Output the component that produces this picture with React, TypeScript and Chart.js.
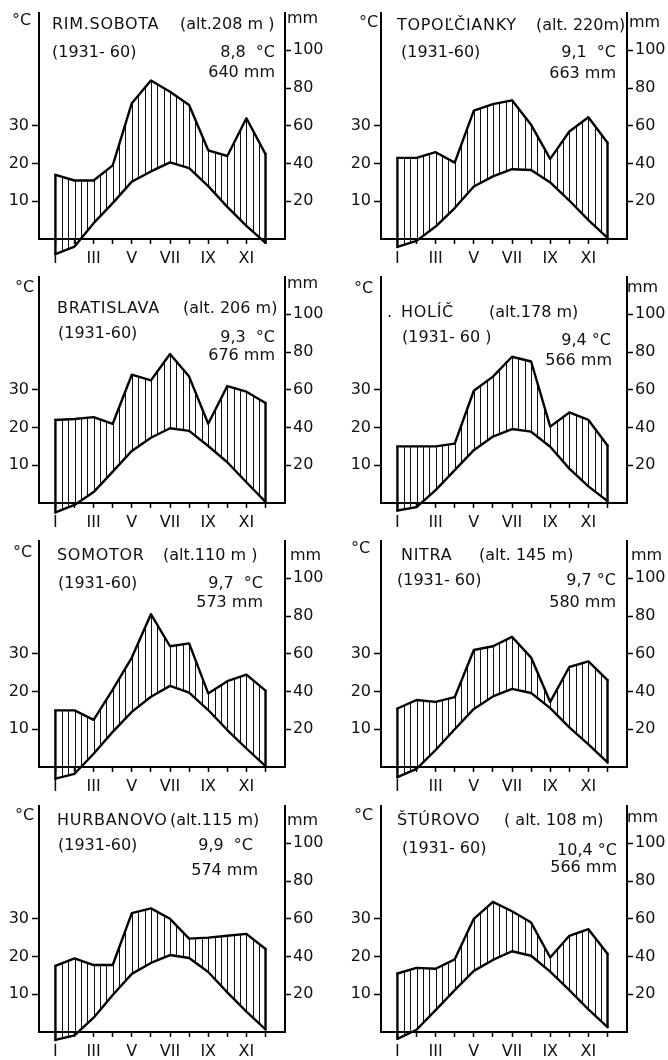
import React, { useEffect, useRef } from 'react';
import { Chart, registerables } from 'chart.js';

Chart.register(...registerables);

// ---------- data ----------
const monthNumbers = [1, 2, 3, 4, 5, 6, 7, 8, 9, 10, 11, 12];
const monthTickLabels = ['I', '', 'III', '', 'V', '', 'VII', '', 'IX', '', 'XI', ''];
const tempTicks = [10, 20, 30];
const precipTicks = [20, 40, 60, 80, 100];

const rimSobotaTemp = [-4.0, -2.0, 4.2, 9.5, 15.2, 17.9, 20.3, 18.8, 14.0, 8.5, 3.5, -1.0];
const rimSobotaPrecip = [34, 31, 31, 39, 72, 84, 78, 71, 47, 44, 64, 45];

const topolcTemp = [-2.1, -0.5, 3.3, 8.2, 13.9, 16.6, 18.5, 18.3, 15.0, 10.2, 5.0, 0.3];
const topolcPrecip = [43, 43, 46, 40.5, 68, 71.5, 73.5, 60.5, 42.5, 57, 64.5, 51];

const bratislavaTemp = [-2.5, -0.5, 2.9, 8.3, 13.8, 17.3, 19.8, 19.1, 15.1, 10.8, 5.5, 0.3];
const bratislavaPrecip = [44, 44.5, 45.5, 42, 68, 65, 79, 67, 42, 62, 59, 53];

const holicTemp = [-2.0, -1.1, 3.4, 8.7, 14.0, 17.6, 19.6, 18.9, 14.9, 9.1, 4.4, 0.5];
const holicPrecip = [30, 30, 30, 31.5, 59.5, 67, 77.5, 75, 40.5, 48, 44, 30.5];

const somotorTemp = [-3.1, -1.8, 3.5, 9.3, 14.6, 18.6, 21.5, 19.7, 15.1, 9.8, 4.9, 0.2];
const somotorPrecip = [30, 30, 25, 41, 58, 81, 64, 65.5, 39, 45.5, 49, 40.5];

const nitraTemp = [-2.7, -0.5, 4.5, 10.0, 15.4, 18.7, 20.7, 19.6, 15.6, 10.5, 6.0, 1.2];
const nitraPrecip = [31, 35.5, 34.5, 37, 62, 64, 69, 58, 34.5, 53, 56, 46];

const hurbanovoTemp = [-2.1, -0.9, 3.8, 9.8, 15.4, 18.3, 20.4, 19.6, 15.9, 10.5, 5.4, 0.7];
const hurbanovoPrecip = [35, 39, 35.5, 35.5, 63, 65.5, 60, 49.5, 50, 51, 52, 44];

const sturovoTemp = [-1.8, 0.6, 5.8, 11.1, 16.2, 19.1, 21.4, 20.2, 16.0, 11.1, 6.0, 1.3];
const sturovoPrecip = [31, 34, 33.5, 38.5, 60, 69, 64, 58, 39.5, 51, 54.5, 41.5];

const stationNames = ['RIM.SOBOTA', 'TOPOĽČIANKY', 'BRATISLAVA', 'HOLÍČ', 'SOMOTOR', 'NITRA', 'HURBANOVO', 'ŠTÚROVO'];
const stationAlts = ['(alt.208 m )', '(alt. 220m)', '(alt. 206 m)', '(alt.178 m)', '(alt.110 m )', '(alt. 145 m)', '(alt.115 m)', '( alt. 108 m)'];
const stationPeriods = ['(1931- 60)', '(1931-60)', '(1931-60)', '(1931- 60 )', '(1931-60)', '(1931- 60)', '(1931-60)', '(1931- 60)'];
const stationMeanTemps = ['8,8  °C', '9,1  °C', '9,3  °C', '9,4 °C', '9,7  °C', '9,7 °C', '9,9  °C', '10,4 °C'];
const stationTotals = ['640 mm', '663 mm', '676 mm', '566 mm', '573 mm', '580 mm', '574 mm', '566 mm'];
const stationTemps = [rimSobotaTemp, topolcTemp, bratislavaTemp, holicTemp, somotorTemp, nitraTemp, hurbanovoTemp, sturovoTemp];
const stationPrecips = [rimSobotaPrecip, topolcPrecip, bratislavaPrecip, holicPrecip, somotorPrecip, nitraPrecip, hurbanovoPrecip, sturovoPrecip];

// ---------- layout ----------
const PANEL_W = 320;
const PANEL_H = 264;
const panelLefts = [4, 346];
const panelTops = [0, 264, 528, 793];
const FONT = '"DejaVu Sans", sans-serif';

type TextLayout = {
  degX: number; degY: number; mmX: number; mmY: number;
  nameX: number; nameY: number; altX: number; altY: number;
  periodX: number; periodY: number; meanR: number; meanY: number; sumR: number; sumY: number;
  dotX?: number;
};

const textLayouts: TextLayout[] = [
  { degX: 8, degY: 20, mmX: 283, mmY: 18, nameX: 48, nameY: 24, altX: 176, altY: 24, periodX: 48, periodY: 52, meanR: 271, meanY: 52, sumR: 271, sumY: 72 },
  { degX: 13, degY: 22, mmX: 283, mmY: 22, nameX: 51, nameY: 25, altX: 190, altY: 25, periodX: 55, periodY: 52, meanR: 270, meanY: 52, sumR: 270, sumY: 73 },
  { degX: 11, degY: 23, mmX: 283, mmY: 19, nameX: 53, nameY: 44, altX: 179, altY: 44, periodX: 54, periodY: 69, meanR: 271, meanY: 73, sumR: 271, sumY: 91 },
  { degX: 8, degY: 24, mmX: 281, mmY: 23, nameX: 55, nameY: 48, altX: 143, altY: 48, periodX: 56, periodY: 73, meanR: 265, meanY: 76, sumR: 266, sumY: 96, dotX: 41 },
  { degX: 9, degY: 24, mmX: 286, mmY: 27, nameX: 53, nameY: 27, altX: 159, altY: 27, periodX: 54, periodY: 55, meanR: 259, meanY: 55, sumR: 259, sumY: 74 },
  { degX: 5, degY: 20, mmX: 285, mmY: 27, nameX: 55, nameY: 27, altX: 133, altY: 27, periodX: 51, periodY: 52, meanR: 270, meanY: 52, sumR: 270, sumY: 74 },
  { degX: 11, degY: 22, mmX: 283, mmY: 27, nameX: 53, nameY: 27, altX: 166, altY: 27, periodX: 54, periodY: 52, meanR: 249, meanY: 52, sumR: 254, sumY: 77 },
  { degX: 8, degY: 22, mmX: 281, mmY: 24, nameX: 51, nameY: 27, altX: 158, altY: 27, periodX: 56, periodY: 55, meanR: 271, meanY: 57, sumR: 271, sumY: 74 },
];

const tickFont = { family: FONT, size: 16 };

function makeHatchPlugin(temp: number[], precip: number[]) {
  return {
    id: 'hatch',
    beforeDatasetsDraw(chart: any) {
      const xs = chart.scales.x;
      const yT = chart.scales.y;
      const yP = chart.scales.y1;
      const ctx = chart.ctx;
      const steps = 3;
      ctx.save();
      ctx.strokeStyle = '#111';
      ctx.lineWidth = 1;
      ctx.beginPath();
      for (let i = 0; i < monthNumbers.length - 1; i++) {
        for (let k = 0; k < steps; k++) {
          const f = k / steps;
          if (i === 0 && k === 0) continue;
          const xv = monthNumbers[i] + (monthNumbers[i + 1] - monthNumbers[i]) * f;
          const t = temp[i] + (temp[i + 1] - temp[i]) * f;
          const p = precip[i] + (precip[i + 1] - precip[i]) * f;
          const px = Math.round(xs.getPixelForValue(xv)) + 0.5;
          const pt = yT.getPixelForValue(t);
          const pp = yP.getPixelForValue(p);
          if (pp < pt) {
            ctx.moveTo(px, pt);
            ctx.lineTo(px, pp);
          }
        }
      }
      ctx.stroke();
      ctx.restore();
    },
  };
}

function lineDs(data: { x: number; y: number }[], axis: string) {
  return {
    data,
    yAxisID: axis,
    borderColor: '#000',
    borderWidth: 2.4,
    pointRadius: 0,
    fill: false,
    tension: 0,
    clip: false as any,
    borderCapStyle: 'round',
    borderJoinStyle: 'round',
  };
}

function ClimatePanel({ idx }: { idx: number }) {
  const ref = useRef<HTMLCanvasElement>(null);
  const temp = stationTemps[idx];
  const precip = stationPrecips[idx];

  useEffect(() => {
    if (!ref.current) return;
    const first = 0;
    const last = monthNumbers.length - 1;
    const chart = new Chart(ref.current, {
      type: 'line',
      data: {
        datasets: [
          lineDs(monthNumbers.map((m, i) => ({ x: m, y: temp[i] })), 'y'),
          lineDs(monthNumbers.map((m, i) => ({ x: m, y: precip[i] })), 'y1'),
          lineDs([{ x: monthNumbers[first], y: temp[first] }, { x: monthNumbers[first], y: precip[first] / 2 }], 'y'),
          lineDs([{ x: monthNumbers[last], y: temp[last] }, { x: monthNumbers[last], y: precip[last] / 2 }], 'y'),
        ] as any,
      },
      options: {
        animation: false,
        responsive: false,
        events: [],
        layout: { padding: { top: 12, left: 0, right: 0, bottom: 0 } },
        plugins: { legend: { display: false }, tooltip: { enabled: false }, title: { display: false } },
        scales: {
          x: {
            type: 'linear',
            min: 0.14,
            max: 13.02,
            afterBuildTicks: (s: any) => { s.ticks = monthNumbers.map((v) => ({ value: v })); },
            afterFit: (s: any) => { s.height = 25; },
            ticks: {
              callback: (_v: any, i: number) => monthTickLabels[i] ?? '',
              autoSkip: false,
              maxRotation: 0,
              minRotation: 0,
              padding: 5,
              font: tickFont,
              color: '#111',
            },
            grid: { display: true, drawOnChartArea: false, drawTicks: true, tickLength: 5, tickColor: '#000', tickWidth: 1.5 },
            border: { display: true, color: '#000', width: 2 },
          },
          y: {
            position: 'left',
            min: 0,
            max: 60,
            afterBuildTicks: (s: any) => { s.ticks = tempTicks.map((v) => ({ value: v })); },
            afterFit: (s: any) => { s.width = 35; },
            ticks: { padding: 3, font: tickFont, color: '#111' },
            grid: { display: true, drawOnChartArea: false, drawTicks: true, tickLength: 7, tickColor: '#000', tickWidth: 1.5 },
            border: { display: true, color: '#000', width: 2 },
          },
          y1: {
            position: 'right',
            min: 0,
            max: 120,
            afterBuildTicks: (s: any) => { s.ticks = precipTicks.map((v) => ({ value: v })); },
            afterFit: (s: any) => { s.width = PANEL_W - 281; },
            ticks: { padding: 2, font: tickFont, color: '#111' },
            grid: { display: true, drawOnChartArea: false, drawTicks: true, tickLength: 6, tickColor: '#000', tickWidth: 1.5 },
            border: { display: true, color: '#000', width: 2 },
          },
        },
      } as any,
      plugins: [makeHatchPlugin(temp, precip)],
    });
    return () => chart.destroy();
  }, []);

  const L = textLayouts[idx];
  const col = idx % 2;
  const row = Math.floor(idx / 2);
  const base: React.CSSProperties = {
    position: 'absolute',
    fontFamily: FONT,
    fontSize: 16,
    lineHeight: '18px',
    color: '#111',
    whiteSpace: 'pre',
  };
  const at = (x: number, y: number): React.CSSProperties => ({ ...base, left: x, top: y - 9 });
  const atR = (r: number, y: number): React.CSSProperties => ({ ...base, right: PANEL_W - r, top: y - 9, textAlign: 'right' });

  return (
    <div style={{ position: 'absolute', left: panelLefts[col], top: panelTops[row], width: PANEL_W, height: PANEL_H }}>
      <canvas ref={ref} width={PANEL_W} height={PANEL_H} style={{ width: PANEL_W, height: PANEL_H, display: 'block' }} />
      <span style={at(L.degX, L.degY)}>°C</span>
      <span style={at(L.mmX, L.mmY)}>mm</span>
      {L.dotX !== undefined && <span style={at(L.dotX, L.nameY)}>.</span>}
      <span style={{ ...at(L.nameX, L.nameY), letterSpacing: '0.7px' }}>{stationNames[idx]}</span>
      <span style={at(L.altX, L.altY)}>{stationAlts[idx]}</span>
      <span style={at(L.periodX, L.periodY)}>{stationPeriods[idx]}</span>
      <span style={atR(L.meanR, L.meanY)}>{stationMeanTemps[idx]}</span>
      <span style={atR(L.sumR, L.sumY)}>{stationTotals[idx]}</span>
    </div>
  );
}

export default function App() {
  return (
    <div style={{ position: 'absolute', left: 0, top: 0, width: 668, height: 1060, background: '#fff', overflow: 'hidden' }}>
      {stationNames.map((_, i) => (
        <ClimatePanel key={i} idx={i} />
      ))}
    </div>
  );
}
